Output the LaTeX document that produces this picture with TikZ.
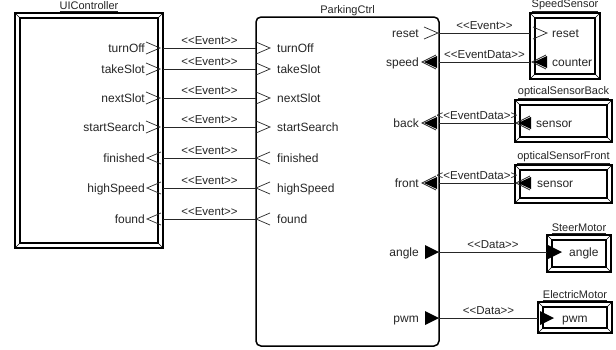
\documentclass[tikz,border=0pt]{standalone}
\usepackage{fontspec}
\setmainfont{Liberation Sans}
\usetikzlibrary{calc}
\newcommand\ltlt{<\kern0pt<}
\newcommand\gtgt{>\kern0pt>}
\newcommand\bevelbox[2]{%
  \draw[inframe] ([shift={(#2,#2)}]#1.north west) rectangle ([shift={(-#2,-#2)}]#1.south east);
  \draw[bev] (#1.north west) -- ++(#2,#2) (#1.north east) -- ++(-#2,#2)
             (#1.south west) -- ++(#2,-#2) (#1.south east) -- ++(-#2,-#2);}
\newcommand\chevout[1]{\draw[chev] (#1) ++(-14,-6) -- (#1) -- ++(-14,6);}
\newcommand\chevin[1]{\draw[chev] (#1) ++(14,-6) -- (#1) -- ++(14,6);}
\newcommand\triL[1]{\fill (#1) -- ++(13,-6) -- ++(0,12) -- cycle;
  \draw[chev] (#1) ++(-2,0) ++(14,-7) -- ++(-14,7) -- ++(14,7);}
\newcommand\triR[1]{\fill (#1) -- ++(-14,-7) -- ++(0,14) -- cycle;}
\tikzset{
  frame/.style={draw, line width=1.8pt, outer sep=0pt, inner sep=0pt},
  inframe/.style={line width=1.4pt},
  bev/.style={line width=0.6pt},
  pcbox/.style={draw, line width=1.5pt, rounded corners=5pt, outer sep=0pt, inner sep=0pt},
  title/.style={font=\fontsize{11}{13}\selectfont, text=black!85, inner sep=0pt, anchor=south, yshift=1pt},
  plabel/.style={font=\fontsize{12}{14}\selectfont, text=black!85, inner sep=0pt, text height=8.5pt, text depth=2.5pt},
  conn/.style={line width=0.8pt, draw=black!85},
  stereo/.style={font=\fontsize{11.5}{13}\selectfont, text=black!85, inner sep=0pt, anchor=south, yshift=2.5pt},
  chev/.style={line width=0.7pt, draw=black!85},
}
\begin{document}
\begin{tikzpicture}[x=1pt,y=-1pt]
\useasboundingbox[fill=white] (0,0) rectangle (616,349);
% boxes
\node[frame, minimum width=148pt, minimum height=235pt] (ui) at (89,130.5) {};
\bevelbox{ui}{5}
\node[title] at (ui.north) {\underline{UIController}};

\node[pcbox, minimum width=183pt, minimum height=329pt] (pc) at (347.5,181.5) {};
\node[title] at (pc.north) {ParkingCtrl};

\node[frame, minimum width=70pt, minimum height=66pt] (ss) at (565,46) {};
\bevelbox{ss}{5}
\node[title] at (ss.north) {\underline{SpeedSensor}};

\node[frame, minimum width=97pt, minimum height=42pt] (ob) at (563.5,121) {};
\bevelbox{ob}{5}
\node[title] at (ob.north) {\underline{opticalSensorBack}};

\node[frame, minimum width=97pt, minimum height=38pt] (of) at (563.5,184) {};
\bevelbox{of}{5}
\node[title] at (of.north) {\underline{opticalSensorFront}};

\node[frame, minimum width=64pt, minimum height=37pt] (sm) at (579,253.5) {};
\bevelbox{sm}{5}
\node[title] at (sm.north) {\underline{SteerMotor}};

\node[frame, minimum width=74pt, minimum height=31pt] (em) at (575,317.5) {};
\bevelbox{em}{5}
\node[title] at (em.north) {\underline{ElectricMotor}};

% left connections
\foreach \n/\y in {turnOff/48,takeSlot/69,nextSlot/98,startSearch/127,finished/158,highSpeed/188,found/219}{
  \coordinate (u-\n) at (ui.east |- 0,\y);
  \coordinate (p-\n) at (pc.west |- 0,\y);
  \node[plabel, anchor=east] at (145,\y+1) {\n};
  \node[plabel, anchor=west] at (277,\y+1) {\n};
  \draw[conn] (u-\n) -- node[stereo]{\ltlt Event\gtgt} (p-\n);
}
\foreach \y in {48,69,98,127}{\chevout{160,\y} \chevout{270,\y}}
\foreach \y in {158,188,219}{\chevin{147,\y} \chevin{256,\y}}

% right connections
\coordinate (p-reset) at (pc.east |- 0,33);
\coordinate (s-reset) at (ss.west |- 0,33);
\coordinate (p-speed) at (pc.east |- 0,62);
\coordinate (s-counter) at (ss.west |- 0,62);
\coordinate (p-back) at (pc.east |- 0,123);
\coordinate (ob-sensor) at (ob.west |- 0,123);
\coordinate (p-front) at (pc.east |- 0,183);
\coordinate (of-sensor) at (of.west |- 0,183);
\coordinate (p-angle) at (pc.east |- 0,252);
\coordinate (sm-angle) at (sm.west |- 0,252);
\coordinate (p-pwm) at (pc.east |- 0,318);
\coordinate (em-pwm) at (em.west |- 0,318);

\draw[conn] (p-reset) -- node[stereo]{\ltlt Event\gtgt} (s-reset);
\draw[conn] (p-speed) -- node[stereo]{\ltlt EventData\gtgt} (s-counter);
\draw[conn] (p-back) -- node[stereo]{\ltlt EventData\gtgt} (ob-sensor);
\draw[conn] (p-front) -- node[stereo]{\ltlt EventData\gtgt} (of-sensor);
\draw[conn] (p-angle) -- node[stereo]{\ltlt Data\gtgt} (sm-angle);
\draw[conn] (p-pwm) -- node[stereo]{\ltlt Data\gtgt} (em-pwm);

\foreach \n/\y in {reset/33,speed/62,back/123,front/183,angle/252,pwm/318}{
  \node[plabel, anchor=east] at (419,\y+1) {\n};
}
\chevout{438,33}
\triL{424,62} \triL{424,123} \triL{424,183}
\triR{439,252} \triR{439,318}

\node[plabel, anchor=west] at (552,34) {reset};
\node[plabel, anchor=west] at (552,63) {counter};
\node[plabel, anchor=west] at (536,124) {sensor};
\node[plabel, anchor=west] at (537,184) {sensor};
\node[plabel, anchor=west] at (569,253) {angle};
\node[plabel, anchor=west] at (562,319) {pwm};
\chevout{547,33}
\triL{534,62}
\triL{518,123} \triL{518,183}
\triR{562,252} \triR{554,318}
\end{tikzpicture}
\end{document}
